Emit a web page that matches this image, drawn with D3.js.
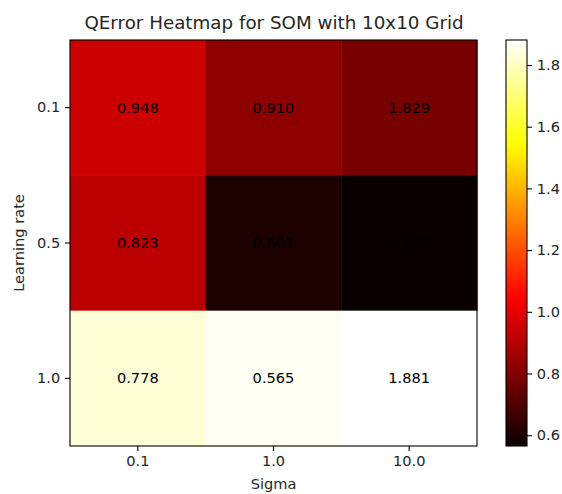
<!DOCTYPE html>
<html>
<head>
<meta charset="utf-8">
<script src="https://cdn.jsdelivr.net/npm/d3@7"></script>
<style>
  body { margin: 0; background: #fff; }
  text { font-family: "DejaVu Sans", sans-serif; fill: #262626; }
</style>
</head>
<body>
<svg id="chart" width="562" height="494"></svg>
<script>
// qerror values, rows = learning rate, cols = sigma (as printed in the cells)
var learningRates = ["0.1", "0.5", "1.0"];
var sigmas = ["0.1", "1.0", "10.0"];
var qerror = [
  [0.948, 0.910, 1.829],
  [0.823, 0.601, 1.867],
  [0.778, 0.565, 1.881]
];
var cbarTicks = [0.6, 0.8, 1.0, 1.2, 1.4, 1.6, 1.8];

// matplotlib "hot"
function hot(t) {
  t = Math.max(0, Math.min(1, t));
  var r = t < 0.365079 ? 0.0416 + (1 - 0.0416) * t / 0.365079 : 1;
  var g = t < 0.365079 ? 0 : (t < 0.746032 ? (t - 0.365079) / (0.746032 - 0.365079) : 1);
  var b = t < 0.746032 ? 0 : (t - 0.746032) / (1 - 0.746032);
  return d3.rgb(r * 255, g * 255, b * 255).toString();
}

var svg = d3.select("#chart");
var mLeft = 70, mTop = 40, w = 407, h = 406;
var fs = "14.6px";

var all = d3.merge(qerror);
var vmin = d3.min(all), vmax = d3.max(all);
var norm = d3.scaleLinear().domain([vmin, vmax]).range([0, 1]);

var x = d3.scaleBand().domain(sigmas).range([mLeft, mLeft + w]);
var y = d3.scaleBand().domain(learningRates).range([mTop, mTop + h]);

// cells: the colour grid is the transposed matrix, labels are not
var cells = [];
learningRates.forEach(function(lr, i) {
  sigmas.forEach(function(s, j) {
    cells.push({ lr: lr, s: s, label: qerror[i][j], color: qerror[j][i] });
  });
});

svg.selectAll("rect.cell").data(cells).enter().append("rect")
  .attr("class", "cell")
  .attr("x", function(d) { return x(d.s); })
  .attr("y", function(d) { return y(d.lr); })
  .attr("width", x.bandwidth() + 0.5)
  .attr("height", y.bandwidth() + 0.5)
  .attr("fill", function(d) { return hot(norm(d.color)); });

svg.selectAll("text.ann").data(cells).enter().append("text")
  .attr("x", function(d) { return x(d.s) + x.bandwidth() / 2; })
  .attr("y", function(d) { return y(d.lr) + y.bandwidth() / 2; })
  .attr("text-anchor", "middle")
  .attr("dy", "0.35em")
  .style("font-size", fs)
  .style("fill", "#000")
  .text(function(d) { return d.label.toFixed(3); });

svg.append("rect")
  .attr("x", mLeft).attr("y", mTop).attr("width", w).attr("height", h)
  .attr("fill", "none").attr("stroke", "#000").attr("stroke-width", 1.1);

var xAxis = svg.append("g").attr("transform", "translate(0," + (mTop + h) + ")")
  .call(d3.axisBottom(x).tickSize(4.9).tickPadding(4.9));
var yAxis = svg.append("g").attr("transform", "translate(" + mLeft + ",0)")
  .call(d3.axisLeft(y).tickSize(4.9).tickPadding(4.9));
[xAxis, yAxis].forEach(function(a) {
  a.select(".domain").remove();
  a.selectAll("line").attr("stroke", "#000").attr("stroke-width", 1.1);
  a.selectAll("text").style("font-size", fs).style("font-family", "DejaVu Sans").attr("fill", "#262626");
});

svg.append("text").attr("x", mLeft + w / 2 + 0.5).attr("y", 29)
  .attr("text-anchor", "middle").style("font-size", "18.3px")
  .text("QError Heatmap for SOM with 10x10 Grid");
svg.append("text").attr("x", mLeft + w / 2).attr("y", 489)
  .attr("text-anchor", "middle").style("font-size", fs).text("Sigma");
svg.append("text").attr("transform", "translate(24," + (mTop + h / 2) + ") rotate(-90)")
  .attr("text-anchor", "middle").style("font-size", fs).text("Learning rate");

// colorbar
var cbX = 506, cbW = 21;
var cy = d3.scaleLinear().domain([vmin, vmax]).range([mTop + h, mTop]);
var defs = svg.append("defs");
var grad = defs.append("linearGradient").attr("id", "hotgrad")
  .attr("x1", 0).attr("y1", 1).attr("x2", 0).attr("y2", 0);
d3.range(0, 1.0001, 0.02).forEach(function(t) {
  grad.append("stop").attr("offset", t).attr("stop-color", hot(t));
});
svg.append("rect").attr("x", cbX).attr("y", mTop).attr("width", cbW).attr("height", h)
  .attr("fill", "url(#hotgrad)").attr("stroke", "#000").attr("stroke-width", 1.1);
var cAxis = svg.append("g").attr("transform", "translate(" + (cbX + cbW) + ",0)")
  .call(d3.axisRight(cy).tickValues(cbarTicks).tickFormat(d3.format(".1f")).tickSize(4.9).tickPadding(4.9));
cAxis.select(".domain").remove();
cAxis.selectAll("line").attr("stroke", "#000").attr("stroke-width", 1.1);
cAxis.selectAll("text").style("font-size", fs).style("font-family", "DejaVu Sans").attr("fill", "#262626");
</script>
</body>
</html>
